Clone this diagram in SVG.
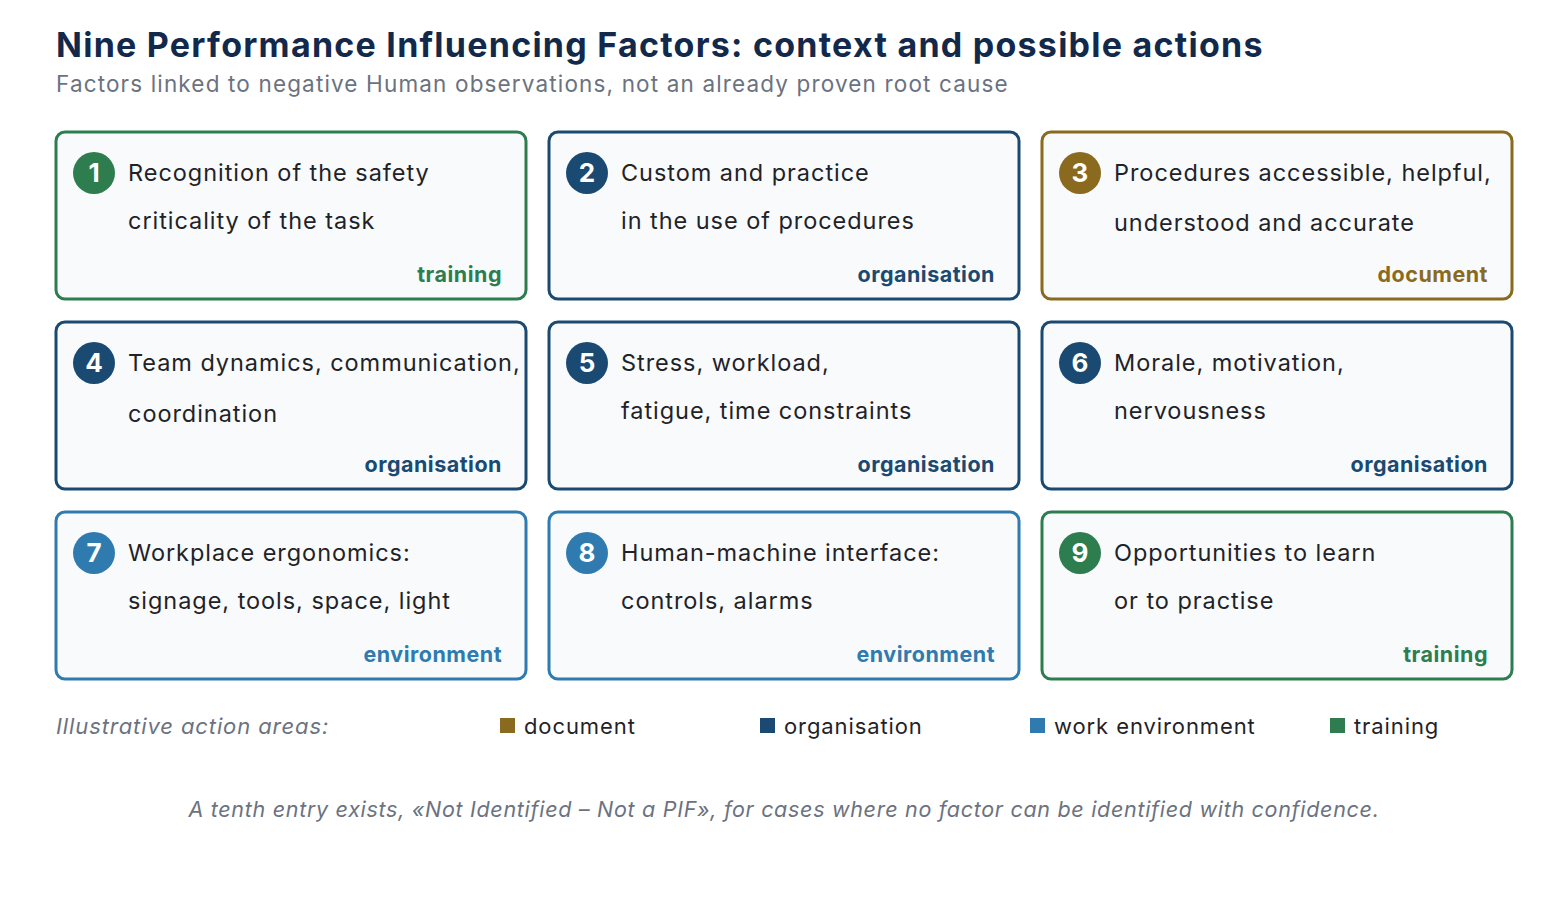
<svg xmlns="http://www.w3.org/2000/svg" width="1568" height="900" viewBox="0 0 1568 900">
<style>
text{font-family:Inter,"Noto Sans","Liberation Sans",sans-serif}
.card{fill:#f8fafc;stroke-width:3}
.t{font-size:23.5px;fill:#1f2328;letter-spacing:0.95px}
.n{font-size:26px;font-weight:700;fill:#fff}
.lab{font-size:21.5px;font-weight:700;letter-spacing:0.5px}
.g{stroke:#2e7d4f}.gf{fill:#2e7d4f}
.b{stroke:#1a4a72}.bf{fill:#1a4a72}
.y{stroke:#8a6a1f}.yf{fill:#8a6a1f}
.l{stroke:#2f7bb0}.lf{fill:#2f7bb0}
.leg{font-size:22px;fill:#1f2328;letter-spacing:0.9px}
</style>
<rect width="1568" height="900" fill="#fff"/>
<text x="56" y="57" font-size="34" font-weight="700" fill="#13294b" letter-spacing="1.25">Nine Performance Influencing Factors: context and possible actions</text>
<text x="56" y="92" font-size="22.5" fill="#6b7280" letter-spacing="1.15">Factors linked to negative Human observations, not an already proven root cause</text>

<g id="n1"><rect class="card g" x="56" y="132" width="470" height="167" rx="9"/><circle class="gf" cx="94" cy="173" r="21"/><text class="n" x="94" y="182" text-anchor="middle">1</text><text class="t" x="128" y="181">Recognition of the safety</text><text class="t" x="128" y="229">criticality of the task</text><text class="lab gf" x="502" y="282" text-anchor="end">training</text></g>
<g id="n2"><rect class="card b" x="549" y="132" width="470" height="167" rx="9"/><circle class="bf" cx="587" cy="173" r="21"/><text class="n" x="587" y="182" text-anchor="middle">2</text><text class="t" x="621" y="181">Custom and practice</text><text class="t" x="621" y="229">in the use of procedures</text><text class="lab bf" x="995" y="282" text-anchor="end">organisation</text></g>
<g id="n3"><rect class="card y" x="1042" y="132" width="470" height="167" rx="9"/><circle class="yf" cx="1080" cy="173" r="21"/><text class="n" x="1080" y="182" text-anchor="middle">3</text><text class="t" x="1114" y="181">Procedures accessible, helpful,</text><text class="t" x="1114" y="231">understood and accurate</text><text class="lab yf" x="1488" y="282" text-anchor="end">document</text></g>

<g id="n4"><rect class="card b" x="56" y="322" width="470" height="167" rx="9"/><circle class="bf" cx="94" cy="363" r="21"/><text class="n" x="94" y="372" text-anchor="middle">4</text><text class="t" x="128" y="371">Team dynamics, communication,</text><text class="t" x="128" y="422">coordination</text><text class="lab bf" x="502" y="472" text-anchor="end">organisation</text></g>
<g id="n5"><rect class="card b" x="549" y="322" width="470" height="167" rx="9"/><circle class="bf" cx="587" cy="363" r="21"/><text class="n" x="587" y="372" text-anchor="middle">5</text><text class="t" x="621" y="371">Stress, workload,</text><text class="t" x="621" y="419">fatigue, time constraints</text><text class="lab bf" x="995" y="472" text-anchor="end">organisation</text></g>
<g id="n6"><rect class="card b" x="1042" y="322" width="470" height="167" rx="9"/><circle class="bf" cx="1080" cy="363" r="21"/><text class="n" x="1080" y="372" text-anchor="middle">6</text><text class="t" x="1114" y="371">Morale, motivation,</text><text class="t" x="1114" y="419">nervousness</text><text class="lab bf" x="1488" y="472" text-anchor="end">organisation</text></g>

<g id="n7"><rect class="card l" x="56" y="512" width="470" height="167" rx="9"/><circle class="lf" cx="94" cy="553" r="21"/><text class="n" x="94" y="562" text-anchor="middle">7</text><text class="t" x="128" y="561">Workplace ergonomics:</text><text class="t" x="128" y="609">signage, tools, space, light</text><text class="lab lf" x="502" y="662" text-anchor="end">environment</text></g>
<g id="n8"><rect class="card l" x="549" y="512" width="470" height="167" rx="9"/><circle class="lf" cx="587" cy="553" r="21"/><text class="n" x="587" y="562" text-anchor="middle">8</text><text class="t" x="621" y="561">Human-machine interface:</text><text class="t" x="621" y="609">controls, alarms</text><text class="lab lf" x="995" y="662" text-anchor="end">environment</text></g>
<g id="n9"><rect class="card g" x="1042" y="512" width="470" height="167" rx="9"/><circle class="gf" cx="1080" cy="553" r="21"/><text class="n" x="1080" y="562" text-anchor="middle">9</text><text class="t" x="1114" y="561">Opportunities to learn</text><text class="t" x="1114" y="609">or to practise</text><text class="lab gf" x="1488" y="662" text-anchor="end">training</text></g>

<g id="connectors"></g>

<g id="legend">
<text x="56" y="734" font-size="22" font-style="italic" fill="#6b7280" letter-spacing="0.9">Illustrative action areas:</text>
<rect class="yf" x="500" y="718" width="15" height="15"/><text class="leg" x="524" y="734">document</text>
<rect class="bf" x="760" y="718" width="15" height="15"/><text class="leg" x="784" y="734">organisation</text>
<rect class="lf" x="1030" y="718" width="15" height="15"/><text class="leg" x="1054" y="734">work environment</text>
<rect class="gf" x="1330" y="718" width="15" height="15"/><text class="leg" x="1354" y="734">training</text>
</g>
<text x="784" y="817" text-anchor="middle" font-size="21.5" font-style="italic" fill="#6b7280" letter-spacing="0.7">A tenth entry exists, «Not Identified – Not a PIF», for cases where no factor can be identified with confidence.</text>
</svg>
